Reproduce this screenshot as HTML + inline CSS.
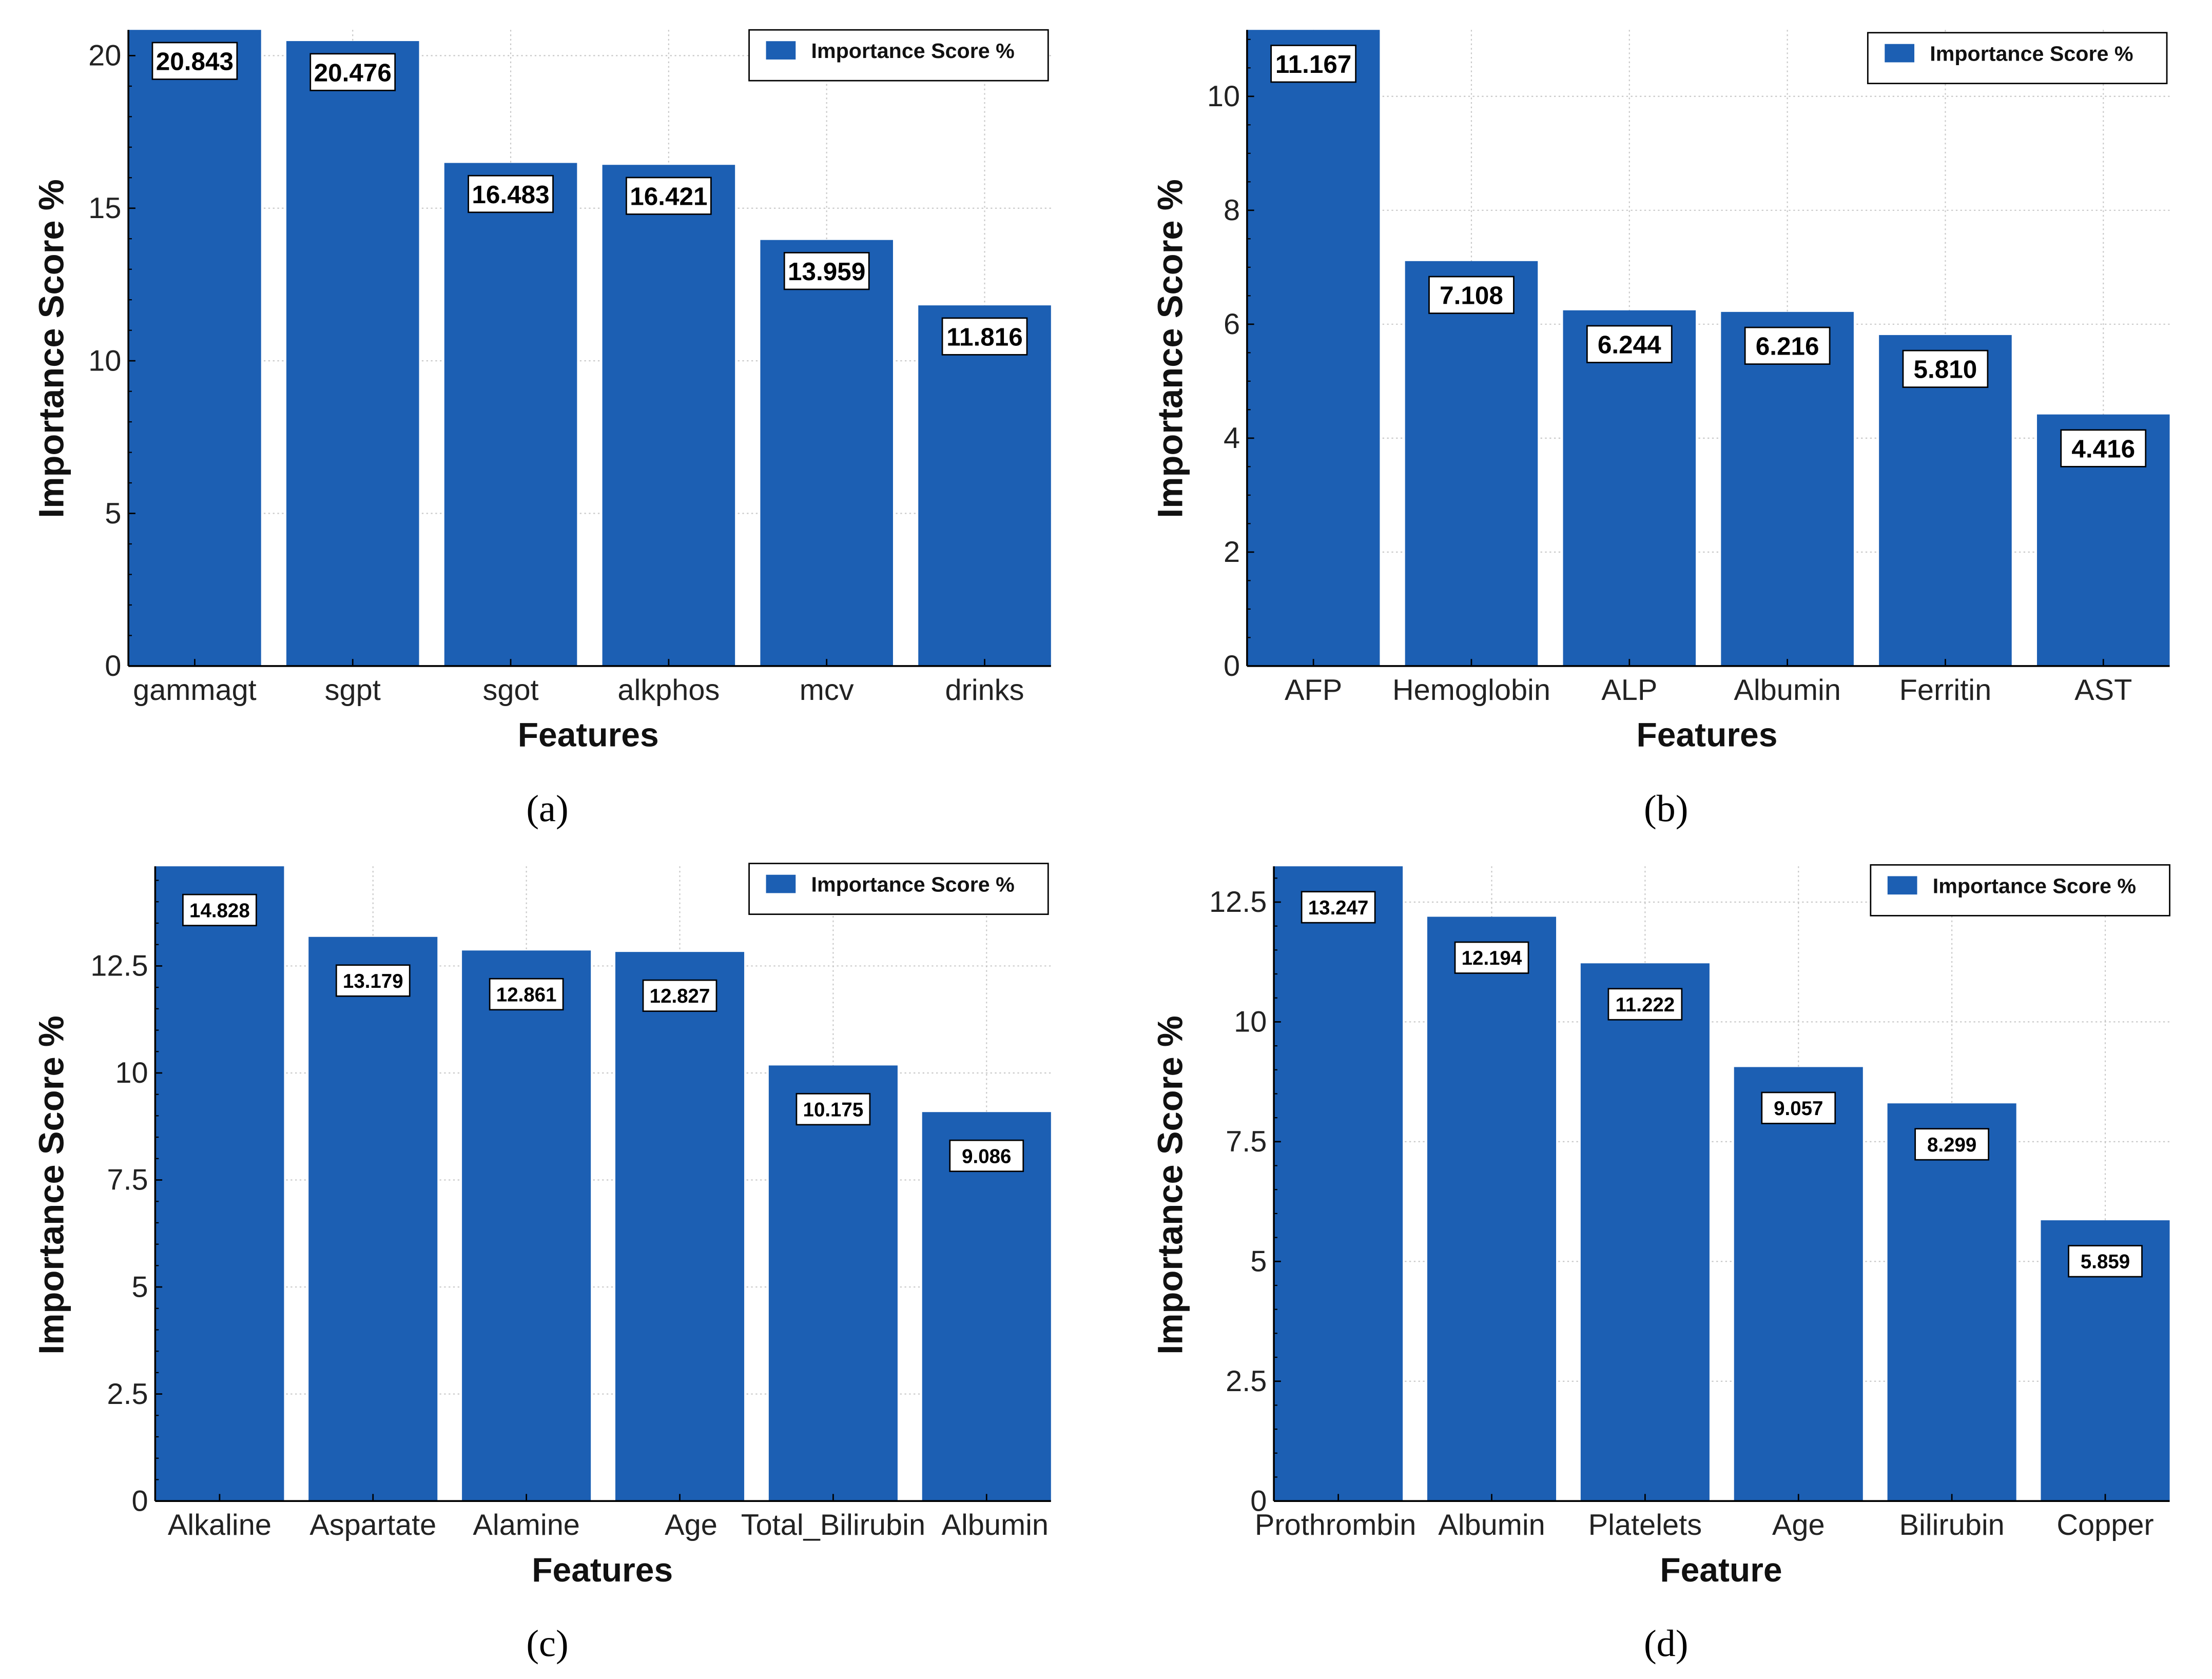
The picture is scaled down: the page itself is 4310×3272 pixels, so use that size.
<!DOCTYPE html>
<html><head><meta charset="utf-8"><style>
html,body{margin:0;padding:0;background:#fff;}
svg{display:block;font-family:"Liberation Sans",Arial,sans-serif;}
</style></head><body>
<svg id="fig" width="4310" height="3272" viewBox="0 0 1568 1190" xmlns="http://www.w3.org/2000/svg"></svg>
<script>
const catsA=["gammagt","sgpt","sgot","alkphos","mcv","drinks"];
const valsA=[20.843,20.476,16.483,16.421,13.959,11.816];
const ticksA=[0,5,10,15,20];
const catsB=["AFP","Hemoglobin","ALP","Albumin","Ferritin","AST"];
const valsB=[11.167,7.108,6.244,6.216,5.810,4.416];
const ticksB=[0,2,4,6,8,10];
const catsC=["Alkaline","Aspartate","Alamine","Age","Total_Bilirubin","Albumin"];
const valsC=[14.828,13.179,12.861,12.827,10.175,9.086];
const ticksC=[0,2.5,5,7.5,10,12.5];
const catsD=["Prothrombin","Albumin","Platelets","Age","Bilirubin","Copper"];
const valsD=[13.247,12.194,11.222,9.057,8.299,5.859];
const ticksD=[0,2.5,5,7.5,10,12.5];

const NS="http://www.w3.org/2000/svg";
const svg=document.getElementById('fig');
function mk(tag,attrs,parent,text){const e=document.createElementNS(NS,tag);for(const k in attrs)e.setAttribute(k,attrs[k]);if(text!==undefined)e.textContent=text;(parent||svg).appendChild(e);return e;}

function panel(cfg){
  const g=mk('g',{});
  
  
  const {L,R,B,T,cats,vals,ticks,minor}=cfg;
  const ymax=Math.max(...vals);
  const y=v=>B-(v/ymax)*(B-T);
  const step=(R-L)/(cats.length-0.16);
  const bw=step*0.84;
  const xc=i=>L+bw/2+i*step;
  ticks.forEach(t=>{const ln=mk('line',{x1:L,x2:R,y1:y(t),y2:y(t),stroke:'#c8c8c8','stroke-width':0.8,'stroke-dasharray':'1.2 2'},g);
    });
  cats.forEach((c,i)=>{const ln=mk('line',{x1:xc(i),x2:xc(i),y1:T,y2:B,stroke:'#c8c8c8','stroke-width':0.8,'stroke-dasharray':'1.2 2'},g);
    });
  vals.forEach((v,i)=>{
    const r=mk('rect',{x:xc(i)-bw/2,y:y(v),width:bw,height:B-y(v),fill:'#1c5fb3'},g);
    
    
  });
  vals.forEach((v,i)=>{
    const cy=y(v)+cfg.lblOff;
    const w=cfg.lblW,h=cfg.lblH;
    const bx=mk('rect',{x:xc(i)-w/2,y:cy-h/2,width:w,height:h,fill:'#fff',stroke:'#000','stroke-width':1},g);
    
    const t=mk('text',{x:xc(i),y:cy+cfg.lblFs*0.36,'text-anchor':'middle','font-size':cfg.lblFs,'font-weight':'bold',fill:'#000'},g,v.toFixed(3));
    
  });
  const ya=mk('line',{x1:L,x2:L,y1:T,y2:B,stroke:'#000','stroke-width':1.3},g);
  
  const xa=mk('line',{x1:L,x2:R,y1:B,y2:B,stroke:'#000','stroke-width':1.3},g);
  
  ticks.forEach(t=>{
    mk('line',{x1:L,x2:L+5,y1:y(t),y2:y(t),stroke:'#000','stroke-width':1},g);
    const tl=mk('text',{x:L-5,y:y(t)+7,'text-anchor':'end','font-size':21,fill:'#222'},g,String(t));
    
  });
  for(let m=0;m<=ymax;m+=minor){mk('line',{x1:L,x2:L+2.5,y1:y(m),y2:y(m),stroke:'#000','stroke-width':0.8},g);}
  cats.forEach((c,i)=>{
    mk('line',{x1:xc(i),x2:xc(i),y1:B,y2:B-5,stroke:'#000','stroke-width':1},g);
    const tl=mk('text',{x:xc(i)+(cfg.xoff?cfg.xoff[i]:0),y:B+24,'text-anchor':'middle','font-size':21,fill:'#222'},g,c);
    
  });
  const yt=mk('text',{x:0,y:0,transform:`translate(${cfg.ytX},${cfg.ytY}) rotate(-90)`,'text-anchor':'middle','font-size':25,'font-weight':'bold',fill:'#111'},g,'Importance Score %');
  
  const xt=mk('text',{x:cfg.xtX,y:B+57,'text-anchor':'middle','font-size':24,'font-weight':'bold',fill:'#111'},g,cfg.xtitle);
  
  const cap=mk('text',{x:cfg.capX,y:B+110,'text-anchor':'middle','font-size':27,'font-family':'"Liberation Serif",serif',fill:'#000'},g,'('+cfg.id+')');
  
  const lg=mk('g',{},g);
  
  mk('rect',{x:cfg.lx,y:cfg.ly,width:212,height:36,fill:'#fff',stroke:'#000','stroke-width':1},lg);
  const sw=mk('rect',{x:cfg.lx+12,y:cfg.ly+8,width:21,height:13,fill:'#1c5fb3'},lg);
  
  const lt=mk('text',{x:cfg.lx+44,y:cfg.ly+20,'font-size':15,'font-weight':'bold',fill:'#111'},lg,'Importance Score %');
  
}
panel({id:'a',L:91,R:745,B:472,T:21,cats:catsA,vals:valsA,ticks:ticksA,minor:1,lblOff:22,lblW:60,lblH:26,lblFs:18,xtitle:'Features',xtX:417,capX:388,lx:531,ly:21,ytX:45,ytY:247});
panel({id:'b',L:884,R:1538,B:472,T:21,cats:catsB,vals:valsB,ticks:ticksB,minor:0.5,lblOff:24,lblW:60,lblH:26,lblFs:18,xtitle:'Features',xtX:1210,capX:1181,lx:1324,ly:23,ytX:838,ytY:247});
panel({id:'c',L:110,R:745,B:1064,T:614,cats:catsC,vals:valsC,ticks:ticksC,minor:0.5,lblOff:31,lblW:52,lblH:22,lblFs:14,xtitle:'Features',xtX:427,capX:388,lx:531,ly:612,ytX:45,ytY:840,xoff:[0,0,0,8,0,6]});
panel({id:'d',L:903,R:1538,B:1064,T:614,cats:catsD,vals:valsD,ticks:ticksD,minor:0.5,lblOff:29,lblW:52,lblH:22,lblFs:14,xtitle:'Feature',xtX:1220,capX:1181,lx:1326,ly:613,ytX:838,ytY:840,xoff:[-2,0,0,0,0,0]});
</script>
</body></html>
